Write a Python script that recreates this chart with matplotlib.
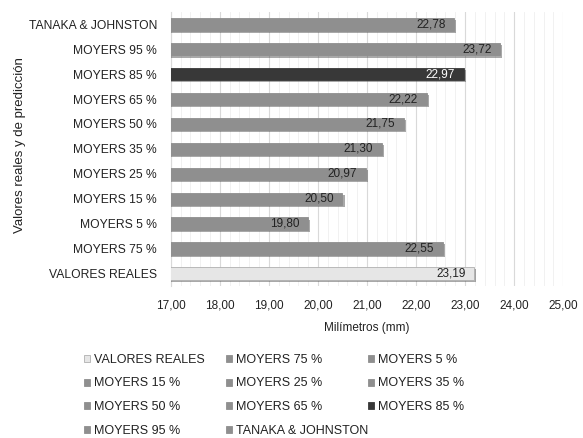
import matplotlib.pyplot as plt
import matplotlib.patheffects as pe
import numpy as np

plt.rcParams['font.family'] = ['Liberation Sans', 'DejaVu Sans']

# datos (de abajo hacia arriba)
categorias = ['VALORES REALES', 'MOYERS 75 %', 'MOYERS 5 %', 'MOYERS 15 %',
              'MOYERS 25 %', 'MOYERS 35 %', 'MOYERS 50 %', 'MOYERS 65 %',
              'MOYERS 85 %', 'MOYERS 95 %', 'TANAKA & JOHNSTON']
valores = [23.19, 22.55, 19.80, 20.50, 20.97, 21.30, 21.75, 22.22, 22.97, 23.72, 22.78]
colores = ['#e6e6e6', '#8f8f8f', '#8f8f8f', '#8f8f8f', '#8f8f8f', '#8f8f8f',
           '#8f8f8f', '#8f8f8f', '#383838', '#8f8f8f', '#8f8f8f']
ticks_x = [17, 18, 19, 20, 21, 22, 23, 24, 25]

fig = plt.figure(figsize=(5.83, 4.38), dpi=100)
ax = fig.add_axes([0.293, 0.347, 0.673, 0.626])

y = np.arange(len(categorias))
sombra = [pe.SimplePatchShadow(offset=(1.5, -1.5), shadow_rgbFace='#555555', alpha=0.5), pe.Normal()]
handles = []
for i in range(len(categorias)):
    b = ax.barh(y[i], valores[i], height=0.5, color=colores[i], label=categorias[i],
                edgecolor='#b0b0b0' if i == 0 else colores[i], linewidth=0.6, zorder=3)
    for p in b:
        p.set_path_effects(sombra)
    handles.append(b)
    txt_color = 'white' if colores[i] == '#383838' else '#222222'
    ax.text(valores[i] - 0.18, y[i], '{:.2f}'.format(valores[i]).replace('.', ','),
            ha='right', va='center', fontsize=8.5, color=txt_color, zorder=4)

ax.set_xlim(17, 25)
ax.set_ylim(-0.5, 10.5)
ax.set_yticks(y)
ax.set_yticklabels(categorias, fontsize=8.7, color='#222222')
ax.set_xticks(ticks_x)
ax.set_xticklabels(['{:.2f}'.format(t).replace('.', ',') for t in ticks_x], fontsize=8.5, color='#222222')
ax.set_xticks(np.arange(17, 25.01, 0.2), minor=True)
ax.grid(axis='x', which='major', color='#d9d9d9', linewidth=0.8, zorder=0)
ax.grid(axis='x', which='minor', color='#efefef', linewidth=0.6, zorder=0)
ax.tick_params(axis='y', which='both', length=0, pad=10)
ax.tick_params(axis='x', which='both', length=0, pad=10)
for s in ['top', 'right', 'bottom']:
    ax.spines[s].set_visible(False)
ax.spines['left'].set_color('#d9d9d9')

ax.set_xlabel('Milímetros (mm)', fontsize=8.5, color='#222222', labelpad=7)
fig.text(0.034, 0.669, 'Valores reales y de predicción', rotation=90, ha='center', va='center',
         fontsize=9.5, color='#222222')

# leyenda en filas de 3 (una leyenda por columna)
col_x = [84, 226, 368]
for c in range(3):
    idx = list(range(c, len(categorias), 3))
    leg = fig.legend([handles[i] for i in idx], [categorias[i] for i in idx],
                     loc='upper left', bbox_to_anchor=(col_x[c] / 583, 1 - 354 / 438),
                     bbox_transform=fig.transFigure, frameon=False, borderpad=0,
                     borderaxespad=0, fontsize=9, handlelength=0.5, handleheight=0.5,
                     handletextpad=0.3, labelspacing=0.92, labelcolor='#222222')
    for h in leg.legend_handles:
        h.set_path_effects([])

plt.savefig('out.png', dpi=100)
